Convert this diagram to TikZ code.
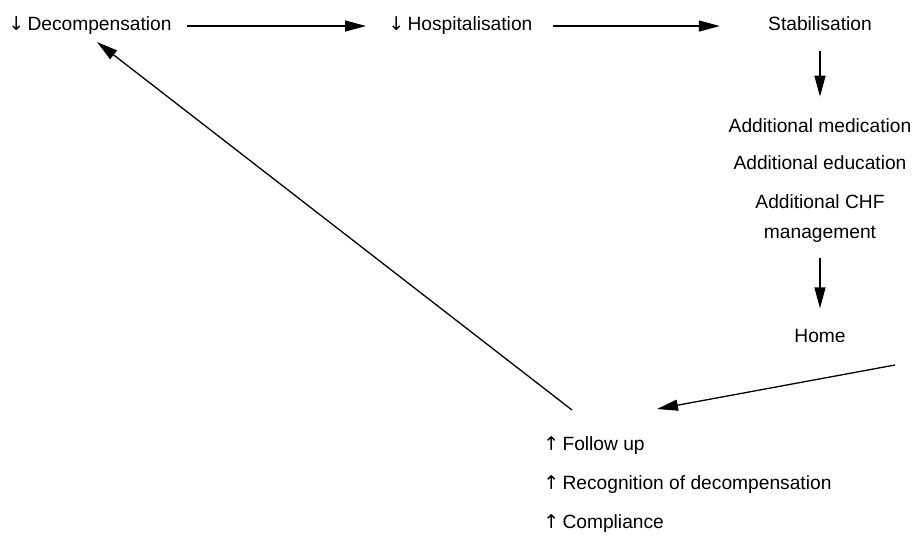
\documentclass[tikz,border=0pt]{standalone}
\usepackage{fontspec}
\setmainfont{Liberation Sans}
\newfontfamily\symfont{DejaVu Sans}
\usetikzlibrary{positioning,arrows.meta}

\newcommand{\dn}{{\symfont\fontsize{9.5}{9.5}\selectfont ↓}\,}
\newcommand{\up}{{\symfont\fontsize{9.5}{9.5}\selectfont ↑}\,}

\tikzset{
  lbl/.style={inner sep=0pt,font=\fontsize{9.6}{15}\selectfont},
  flow/.style={-{Triangle[length=10.5pt,width=5.5pt]},line width=0.65pt},
}

\begin{document}
\begin{tikzpicture}[x=0.5pt,y=-0.5pt]
\useasboundingbox (0,0) rectangle (922,550);

%---------------------------------
% TOP ROW
%---------------------------------
\node[lbl,anchor=base west] (decomp) at (8,31) {\dn Decompensation};
\node[lbl,anchor=base west] (hosp) at (388,31) {\dn Hospitalisation};
\node[lbl,anchor=base] (stab) at (820,31) {Stabilisation};

\draw[flow,shorten <=7.5pt,shorten >=11pt] (decomp.east) -- (decomp.east -| hosp.west);
\draw[flow,shorten <=10pt,shorten >=24pt] (hosp.east) -- (hosp.east -| stab.west);

%---------------------------------
% RIGHT COLUMN
%---------------------------------
\node[lbl,anchor=base] (med) at (820,133) {Additional medication};
\node[lbl,anchor=base] (edu) at (820,170) {Additional education};
\node[lbl,anchor=north,align=center] (chf) at (820,194) {Additional CHF\\management};
\node[lbl,anchor=base] (home) at (820,343) {Home};

\draw[flow,shorten <=9.5pt,shorten >=11pt] (stab.south) -- (med.north);
\draw[flow,shorten <=7.5pt,shorten >=10.5pt] (chf.south) -- (home.north);

%---------------------------------
% BOTTOM LIST
%---------------------------------
\node[lbl,anchor=base west] (follow) at (543,451) {\up Follow up};
\node[lbl,anchor=base west] (recog) at (543,490) {\up Recognition of decompensation};
\node[lbl,anchor=base west] (compl) at (543,529) {\up Compliance};

% free ends of the return arrows
\coordinate (homeout) at (895,365);
\coordinate (followin) at (657,409);
\coordinate (followout) at (572,410);
\coordinate (decompin) at (97,42);

\draw[flow] (homeout) -- (followin);
\draw[flow] (followout) -- (decompin);

\end{tikzpicture}
\end{document}
